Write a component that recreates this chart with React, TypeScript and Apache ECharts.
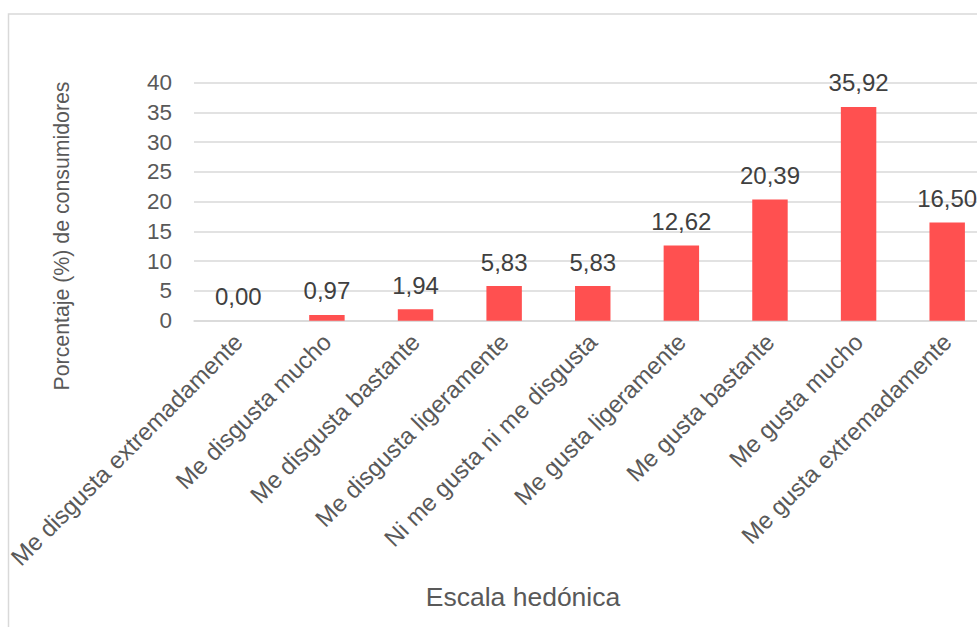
import React, { useEffect, useRef } from "react";
import * as echarts from "echarts";

const categories = [
  "Me disgusta extremadamente",
  "Me disgusta mucho",
  "Me disgusta bastante",
  "Me disgusta ligeramente",
  "Ni me gusta ni me disgusta",
  "Me gusta ligeramente",
  "Me gusta bastante",
  "Me gusta mucho",
  "Me gusta extremadamente",
];
const values = [0.0, 0.97, 1.94, 5.83, 5.83, 12.62, 20.39, 35.92, 16.5];
const yTitle = "Porcentaje (%) de consumidores";
const xTitle = "Escala hedónica";

const FONT = "'Liberation Sans', Arial, sans-serif";

export default function App() {
  const ref = useRef<HTMLDivElement>(null);
  useEffect(() => {
    if (!ref.current) return;
    const chart = echarts.init(ref.current, undefined, { renderer: "svg" });
    chart.setOption({
      animation: false,
      backgroundColor: "#ffffff",
      textStyle: { fontFamily: FONT },
      grid: { left: 194, right: 8.5, top: 82.7, bottom: 306.3, containLabel: false },
      xAxis: {
        type: "category",
        data: categories,
        axisLine: { show: true, lineStyle: { color: "#d9d9d9", width: 1.5 } },
        axisTick: { show: false },
        axisLabel: {
          rotate: 45,
          interval: 0,
          margin: 17,
          color: "#595959",
          fontSize: 24,
          fontFamily: FONT,
        },
      },
      yAxis: {
        type: "value",
        min: 0,
        max: 40,
        interval: 5,
        axisLine: { show: false },
        axisTick: { show: false },
        splitLine: { lineStyle: { color: "#d9d9d9", width: 1.5 } },
        axisLabel: { color: "#595959", fontSize: 22.5, margin: 22, fontFamily: FONT },
      },
      series: [
        {
          type: "bar",
          data: values,
          barWidth: "40%",
          itemStyle: { color: "#ff5050" },
          label: {
            show: true,
            position: "top",
            distance: 12,
            color: "#404040",
            fontSize: 24,
            fontFamily: FONT,
            formatter: (p: any) => Number(p.value).toFixed(2).replace(".", ","),
          },
        },
      ],
      graphic: [
        {
          type: "rect",
          shape: { x: 8.5, y: 14, width: 1200, height: 1000 },
          style: { fill: "none", stroke: "#d9d9d9", lineWidth: 1.5 },
          silent: true,
        },
        {
          type: "text",
          x: 62,
          y: 236,
          rotation: Math.PI / 2,
          style: {
            text: yTitle,
            fill: "#595959",
            font: `21.3px ${FONT}`,
            align: "center",
            verticalAlign: "middle",
          },
        },
        {
          type: "text",
          x: 523,
          y: 597,
          style: {
            text: xTitle,
            fill: "#595959",
            font: `26.5px ${FONT}`,
            align: "center",
            verticalAlign: "middle",
          },
        },
      ],
    });
    return () => chart.dispose();
  }, []);
  return (
    <div style={{ position: "fixed", left: 0, top: 0, width: 977, height: 627, overflow: "hidden", background: "#fff" }}>
      <div ref={ref} style={{ width: 1000, height: 627 }} />
    </div>
  );
}
